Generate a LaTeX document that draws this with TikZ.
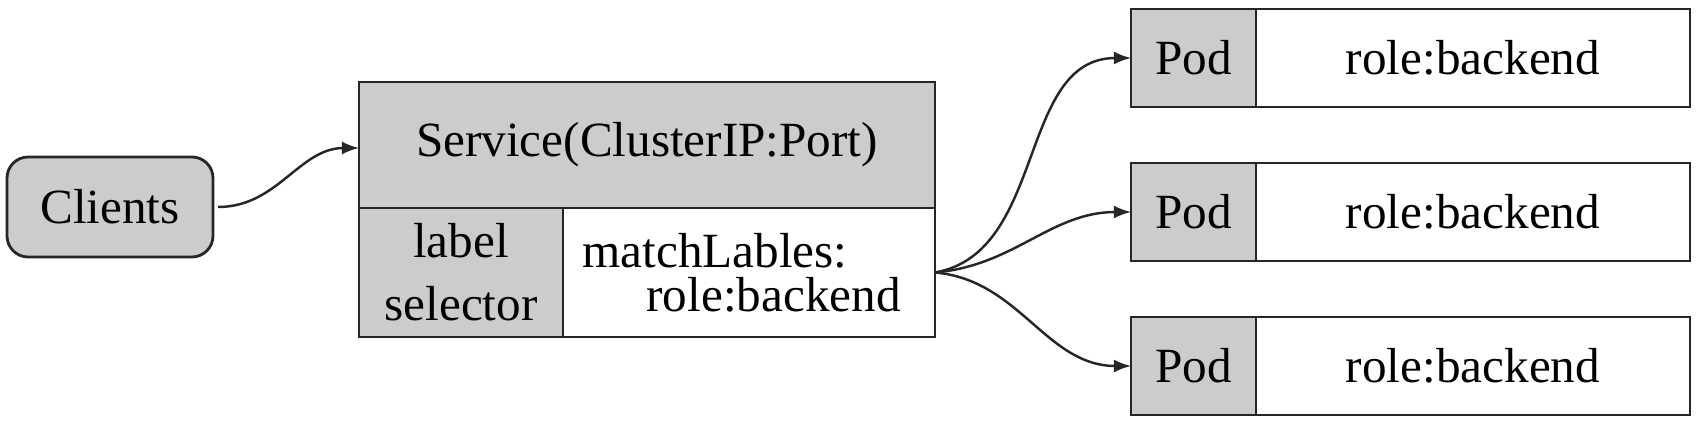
\documentclass[tikz,border=0pt]{standalone}
\usepackage{fontspec}
\setmainfont{Liberation Serif}
\usepackage{tikz}
\usetikzlibrary{positioning}
\usetikzlibrary{arrows, shapes, calc}

\begin{document}
\begin{tikzpicture}[>=latex, font=\fontsize{14}{18}\selectfont]%

    \tikzstyle{grey} = [ rectangle, draw = black!85, line width = 0.8pt, fill = black!20, inner sep = 0pt, outer sep = 0pt]
    \tikzstyle{blank} = [ rectangle, draw = black!85, line width = 0.8pt, fill = white, inner sep = 0pt, outer sep = 0pt]
    \tikzstyle{link} = [ ->, line width = 0.7pt, black!85]
    %
    \useasboundingbox (0,0) rectangle (17,4.24);

    %% Clients
    \node [grey, rounded corners = 6pt, minimum width = 2.06cm, minimum height = 1.0cm] (clients) at (1.10,2.17) {Clients};

    %% Service
    \node [grey, minimum width = 5.76cm, minimum height = 1.26cm] (svc) at (6.47,2.79) {Service(ClusterIP:Port)};
    \node [grey, anchor = north west, minimum width = 2.04cm, minimum height = 1.29cm, align = center] (sel) at (svc.south west) {label\\selector};
    \node [blank, anchor = north east, minimum width = 3.72cm, minimum height = 1.29cm, align = left, text depth = 0pt,
           font = \fontsize{14}{12.3}\selectfont] (match) at (svc.south east) {\hspace*{-0.15cm}matchLables:\\\hspace{1em}role:backend};

    \draw[link] ([xshift = 0.05cm]clients.east) to [out = 0, in = 180] ([yshift = -0.03cm]svc.west);

    %% Pods
    \begin{scope}[node distance = 1.54cm]
        \node [grey, minimum width = 1.25cm, minimum height = 0.98cm] (pod_1) at (11.935,3.66) {Pod};
        \node [grey, minimum width = 1.25cm, minimum height = 0.98cm] (pod_2) [below of = pod_1] {Pod};
        \node [grey, minimum width = 1.25cm, minimum height = 0.98cm] (pod_3) [below of = pod_2] {Pod};

        \node [blank, anchor = west, minimum width = 4.34cm, minimum height = 0.98cm] (role_1) at (pod_1.east) {role:backend};
        \node [blank, anchor = west, minimum width = 4.34cm, minimum height = 0.98cm] (role_2) at (pod_2.east) {role:backend};
        \node [blank, anchor = west, minimum width = 4.34cm, minimum height = 0.98cm] (role_3) at (pod_3.east) {role:backend};
    \end{scope}

    \draw[link] (match.east) to [out = 10, in = 180] (pod_1.west);
    \draw[link] (match.east) to [out = 5, in = 180] (pod_2.west);
    \draw[link] (match.east) to [out = -5, in = 180] (pod_3.west);

\end{tikzpicture}
\end{document}
